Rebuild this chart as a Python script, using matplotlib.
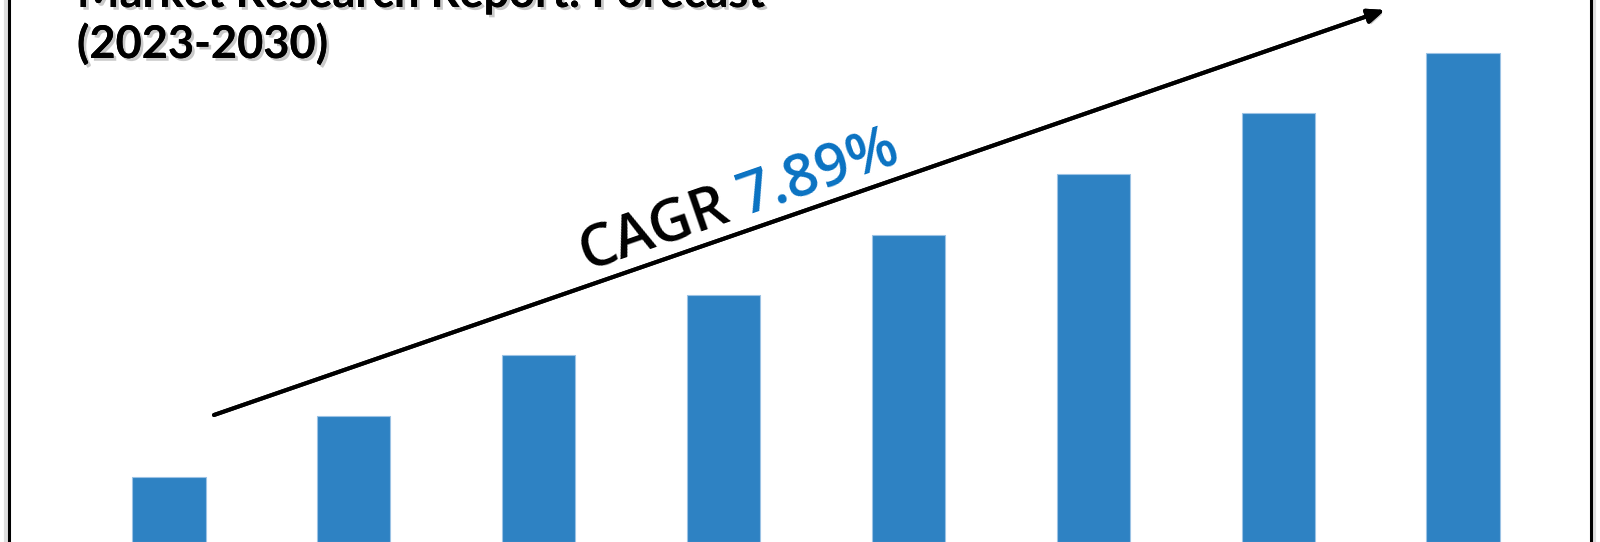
import matplotlib
matplotlib.use("Agg")
import matplotlib.pyplot as plt
import matplotlib.patheffects as pe
from matplotlib.lines import Line2D
import numpy as np

# Forecast years and relative market size (arbitrary units)
years = ["2023", "2024", "2025", "2026", "2027", "2028", "2029", "2030"]
market_size = [6.5, 12.6, 18.7, 24.7, 30.7, 36.8, 42.9, 48.9]

title_lines = ["Market Research Report: Forecast", "(2023-2030)"]
cagr_label = "CAGR"
cagr_value = "7.89%"

BAR_BLUE = "#2E82C3"
CAGR_BLUE = "#0A72C2"

W, H, DPI = 1600, 542, 100
fig = plt.figure(figsize=(W / DPI, H / DPI), dpi=DPI)
fig.patch.set_facecolor("white")

# Bar chart filling the whole canvas
ax = fig.add_axes([0, 0, 1, 1])
x = np.arange(len(years))
ax.bar(x, market_size, width=0.397, color=BAR_BLUE,
       edgecolor="#9CC3E5", linewidth=0.8)
ax.set_xlim(-0.913, 7.74)
ax.set_ylim(0, 54.2)
ax.axis("off")

# Overlay in pixel coordinates (origin top-left) for decorations
ov = fig.add_axes([0, 0, 1, 1], facecolor="none")
ov.set_xlim(0, W)
ov.set_ylim(H, 0)
ov.axis("off")

# Side frame lines with soft shadow
for xf, sx in ((9, -3), (1591, 3)):
    ov.add_line(Line2D([xf + sx, xf + sx], [0, H], color="#dedede", lw=3, zorder=1))
    ov.add_line(Line2D([xf, xf], [0, H], color="black", lw=2.2, zorder=2))

# Title (upper part runs off the canvas)
shadow = [pe.withSimplePatchShadow(offset=(2, -2), shadow_rgbFace="#666666", alpha=0.35),
          pe.Normal()]
ov.text(77, 7, title_lines[0], fontsize=32.5, fontweight="bold", family="Lato",
        ha="left", va="baseline", color="black", path_effects=shadow)
ov.text(77, 58, title_lines[1], fontsize=32.5, fontweight="bold", family="Lato",
        ha="left", va="baseline", color="black", path_effects=shadow)

# Growth arrow
x0, y0, x1, y1 = 214, 415, 1385, 10
ov.annotate("", xy=(x1, y1), xytext=(x0, y0),
            arrowprops=dict(arrowstyle="-|>,head_length=1.0,head_width=0.42",
                            color="black", lw=2.9, shrinkA=0, shrinkB=0,
                            path_effects=[pe.withSimplePatchShadow(offset=(1.5, -2),
                                                                  shadow_rgbFace="#777777",
                                                                  alpha=0.4),
                                          pe.Normal()]))

# CAGR label along the arrow
angle = np.degrees(np.arctan2(y0 - y1, x1 - x0))
ux, uy = np.cos(np.radians(angle)), -np.sin(np.radians(angle))
ox, oy = 586, 271
fs = 42
t1 = ov.text(ox, oy, cagr_label, fontsize=fs, fontweight="semibold", family="Open Sans",
             color="black", rotation=angle, rotation_mode="anchor",
             ha="left", va="baseline")
# measure the unrotated width of the first word plus a space
probe = ov.text(0, 0, cagr_label + " ", fontsize=fs, fontweight="semibold",
                family="Open Sans")
fig.canvas.draw()
wpx = probe.get_window_extent().width
probe.remove()
ov.text(ox + ux * wpx, oy + uy * wpx, cagr_value, fontsize=fs, fontweight="semibold",
        family="Open Sans", color=CAGR_BLUE, rotation=angle, rotation_mode="anchor",
        ha="left", va="baseline")

fig.savefig("out.png", dpi=DPI, facecolor="white")
